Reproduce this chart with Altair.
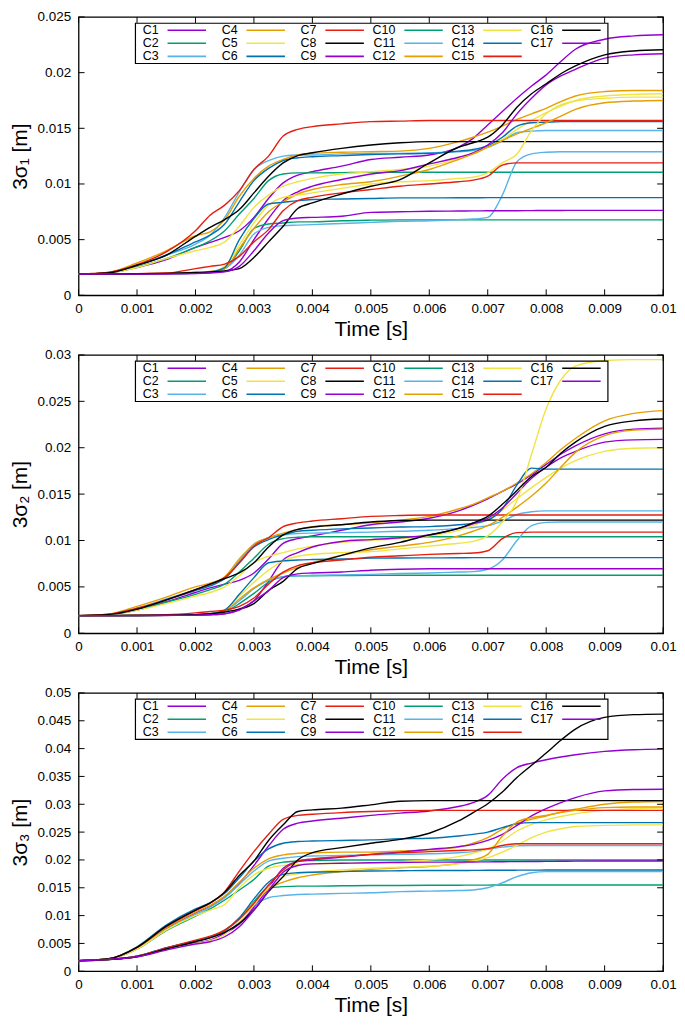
import altair as alt
import pandas as pd

# time grid in milliseconds
TIME_MS = [0, 0.5, 1.0, 1.5, 2.0, 2.25, 2.5, 2.75, 3.0, 3.25, 3.5, 3.75, 4.0, 4.5, 5.0,
           5.5, 6.0, 6.5, 6.75, 7.0, 7.25, 7.5, 7.75, 8.0, 8.25, 8.5, 9.0, 9.5, 10.0]

SERIES = [f"C{i}" for i in range(1, 18)]
COLORS = ["#9400d3", "#009e73", "#56b4e9", "#e69f00", "#f0e442", "#0072b2", "#e51e10", "#000000",
          "#9400d3", "#009e73", "#56b4e9", "#e69f00", "#f0e442", "#0072b2", "#e51e10", "#000000",
          "#9400d3"]

X_TICKS = [0, 0.001, 0.002, 0.003, 0.004, 0.005, 0.006, 0.007, 0.008, 0.009, 0.01]
Y1_TICKS = [0, 0.005, 0.01, 0.015, 0.02, 0.025]
Y2_TICKS = [0, 0.005, 0.01, 0.015, 0.02, 0.025, 0.03]
Y3_TICKS = [0, 0.005, 0.01, 0.015, 0.02, 0.025, 0.03, 0.035, 0.04, 0.045, 0.05]

# values in millimetres (1e-3 m)
SIGMA1_MM = {
    "C1": [1.9, 2.0, 2.5, 3.2, 4.3, 4.75, 5.2, 5.8, 7.0, 8.7, 10.1, 10.8, 11.1, 11.6, 12.2, 12.4, 12.6, 13.3, 14.1, 15.3, 16.5, 17.7, 18.8, 19.8, 21.0, 22.1, 23.0, 23.3, 23.4],
    "C2": [1.9, 2.0, 2.55, 3.3, 4.3, 4.9, 5.8, 7.3, 8.7, 10.3, 10.9, 11.0, 11.0, 11.02, 11.04, 11.05, 11.05, 11.05, 11.05, 11.05, 11.05, 11.05, 11.05, 11.05, 11.05, 11.05, 11.05, 11.05, 11.05],
    "C3": [1.9, 2.0, 2.7, 3.6, 4.6, 5.4, 7.0, 9.3, 11.3, 12.1, 12.5, 12.6, 12.6, 12.7, 12.75, 12.75, 12.8, 12.9, 13.0, 13.3, 13.9, 14.6, 14.75, 14.8, 14.8, 14.8, 14.8, 14.8, 14.8],
    "C4": [1.9, 2.05, 2.9, 4.0, 5.35, 5.7, 6.8, 8.9, 10.5, 11.6, 12.2, 12.6, 12.75, 12.85, 12.9, 12.95, 13.2, 13.8, 14.2, 14.65, 15.2, 15.8, 16.3, 16.8, 17.4, 17.9, 18.3, 18.4, 18.4],
    "C5": [1.9, 2.0, 2.5, 3.3, 4.0, 4.3, 4.8, 6.2, 7.9, 9.0, 9.8, 10.2, 10.5, 10.9, 11.1, 11.3, 11.6, 12.3, 12.8, 13.3, 14.0, 14.9, 15.7, 16.4, 17.0, 17.5, 17.9, 18.05, 18.1],
    "C6": [1.9, 2.0, 2.7, 3.6, 4.8, 5.4, 6.4, 8.4, 10.3, 11.4, 12.1, 12.35, 12.45, 12.55, 12.65, 12.7, 12.75, 12.95, 13.1, 13.45, 14.2, 15.2, 15.5, 15.55, 15.6, 15.6, 15.6, 15.6, 15.6],
    "C7": [1.9, 2.05, 2.75, 3.9, 5.8, 7.2, 8.1, 9.4, 11.3, 12.5, 14.3, 14.9, 15.15, 15.4, 15.6, 15.65, 15.7, 15.7, 15.7, 15.7, 15.7, 15.7, 15.7, 15.7, 15.7, 15.7, 15.7, 15.7, 15.7],
    "C8": [1.9, 2.0, 2.7, 3.6, 5.3, 6.1, 6.8, 7.7, 9.2, 10.7, 11.9, 12.55, 12.8, 13.2, 13.5, 13.7, 13.8, 13.8, 13.8, 13.8, 13.8, 13.8, 13.8, 13.8, 13.8, 13.8, 13.8, 13.8, 13.8],
    "C9": [1.9, 1.9, 1.92, 1.95, 2.0, 2.05, 2.15, 3.0, 5.0, 6.9, 8.5, 9.3, 9.8, 10.4, 10.9, 11.2, 11.8, 12.4, 12.8, 13.5, 14.6, 16.3, 17.7, 18.9, 19.7, 20.3, 21.3, 21.6, 21.7],
    "C10": [1.9, 1.9, 1.92, 1.95, 2.0, 2.1, 2.4, 4.0, 6.0, 6.4, 6.5, 6.6, 6.6, 6.7, 6.75, 6.78, 6.78, 6.78, 6.78, 6.78, 6.78, 6.78, 6.78, 6.78, 6.78, 6.78, 6.78, 6.78, 6.78],
    "C11": [1.9, 1.9, 1.92, 1.95, 2.0, 2.1, 2.4, 3.6, 5.5, 6.1, 6.25, 6.3, 6.35, 6.45, 6.55, 6.65, 6.7, 6.8, 6.85, 7.0, 9.0, 12.0, 12.7, 12.85, 12.9, 12.9, 12.9, 12.9, 12.9],
    "C12": [1.9, 1.9, 1.93, 1.97, 2.05, 2.15, 2.4, 4.2, 6.0, 7.5, 8.4, 9.1, 9.5, 9.95, 10.2, 10.7, 11.3, 12.2, 12.7, 13.3, 13.9, 14.5, 15.0, 15.5, 16.1, 16.7, 17.3, 17.45, 17.5],
    "C13": [1.9, 1.9, 1.93, 1.97, 2.05, 2.1, 2.6, 4.5, 6.5, 8.1, 8.8, 9.0, 9.2, 9.6, 10.0, 10.2, 10.3, 10.5, 10.6, 11.0, 11.9, 12.7, 14.8, 16.3, 17.1, 17.45, 17.7, 17.8, 17.8],
    "C14": [1.9, 1.9, 1.92, 1.95, 2.0, 2.1, 2.5, 5.0, 6.9, 8.2, 8.35, 8.5, 8.6, 8.65, 8.7, 8.75, 8.75, 8.76, 8.76, 8.77, 8.77, 8.77, 8.77, 8.77, 8.77, 8.77, 8.77, 8.77, 8.77],
    "C15": [1.9, 1.9, 1.95, 2.0, 2.4, 2.6, 2.8, 3.5, 4.8, 5.9, 7.6, 8.5, 8.8, 9.2, 9.5, 9.8, 10.0, 10.2, 10.35, 10.7, 11.7, 11.9, 11.9, 11.9, 11.9, 11.9, 11.9, 11.9, 11.9],
    "C16": [1.9, 1.9, 1.93, 1.97, 2.05, 2.1, 2.2, 2.4, 3.4, 4.8, 6.2, 7.8, 8.3, 9.1, 9.8, 10.4, 11.9, 13.3, 13.7, 14.2, 15.3, 16.9, 18.1, 19.0, 19.9, 20.6, 21.6, 21.95, 22.05],
    "C17": [1.9, 1.9, 1.9, 1.92, 1.95, 2.0, 2.1, 2.6, 4.0, 5.6, 6.7, 6.95, 7.0, 7.1, 7.45, 7.5, 7.55, 7.57, 7.58, 7.59, 7.6, 7.6, 7.61, 7.62, 7.62, 7.63, 7.63, 7.63, 7.63],
}

SIGMA2_MM = {
    "C1": [1.9, 2.0, 2.5, 3.4, 4.4, 4.9, 5.3, 5.7, 6.5, 8.0, 9.7, 10.2, 10.5, 11.1, 11.7, 12.0, 12.4, 13.2, 13.8, 14.5, 15.3, 16.1, 17.1, 18.2, 19.3, 20.2, 21.5, 22.0, 22.1],
    "C2": [1.9, 2.0, 2.55, 3.35, 4.2, 4.7, 5.3, 6.6, 8.1, 9.6, 10.2, 10.35, 10.4, 10.4, 10.4, 10.4, 10.4, 10.4, 10.4, 10.4, 10.4, 10.4, 10.4, 10.4, 10.4, 10.4, 10.4, 10.4, 10.4],
    "C3": [1.9, 2.0, 2.7, 3.7, 4.7, 5.2, 6.0, 7.8, 9.6, 10.3, 10.6, 10.75, 10.8, 10.85, 10.9, 11.0, 11.1, 11.3, 11.4, 11.6, 12.1, 12.8, 13.1, 13.2, 13.2, 13.2, 13.2, 13.2, 13.2],
    "C4": [1.9, 2.05, 2.9, 3.9, 5.0, 5.4, 6.1, 8.0, 9.6, 10.3, 10.8, 11.2, 11.5, 11.7, 11.9, 12.2, 12.6, 13.4, 13.9, 14.6, 15.3, 16.2, 17.2, 18.4, 19.8, 21.0, 22.9, 23.7, 24.0],
    "C5": [1.9, 2.0, 2.5, 3.2, 4.0, 4.4, 5.0, 6.2, 7.6, 8.3, 8.7, 9.1, 9.4, 9.8, 10.0, 10.2, 10.5, 11.1, 11.6, 12.3, 13.3, 14.5, 15.7, 16.8, 17.8, 18.6, 19.6, 19.95, 20.0],
    "C6": [1.9, 2.0, 2.6, 3.6, 4.6, 5.1, 5.9, 7.6, 9.3, 10.1, 10.6, 11.0, 11.1, 11.25, 11.35, 11.45, 11.5, 11.7, 11.85, 12.2, 13.4, 16.0, 17.8, 17.7, 17.7, 17.7, 17.7, 17.7, 17.7],
    "C7": [1.9, 2.05, 2.7, 3.6, 4.7, 5.3, 6.0, 7.6, 9.4, 10.3, 11.5, 11.9, 12.1, 12.35, 12.6, 12.7, 12.75, 12.75, 12.75, 12.75, 12.75, 12.75, 12.75, 12.75, 12.75, 12.75, 12.75, 12.75, 12.75],
    "C8": [1.9, 2.0, 2.6, 3.6, 4.7, 5.3, 5.9, 6.5, 7.6, 9.3, 10.6, 11.2, 11.45, 11.7, 12.0, 12.15, 12.2, 12.2, 12.2, 12.2, 12.2, 12.2, 12.2, 12.2, 12.2, 12.2, 12.2, 12.2, 12.2],
    "C9": [1.9, 1.9, 1.92, 1.94, 1.95, 2.0, 2.1, 2.6, 3.5, 5.6, 7.9, 8.7, 9.3, 9.9, 10.1, 10.3, 10.6, 11.3, 11.8, 12.4, 13.5, 15.1, 16.7, 17.9, 18.9, 19.6, 20.6, 20.85, 20.9],
    "C10": [1.9, 1.9, 1.92, 1.95, 2.0, 2.05, 2.3, 3.2, 4.3, 5.5, 6.1, 6.2, 6.2, 6.22, 6.24, 6.25, 6.26, 6.26, 6.26, 6.26, 6.26, 6.26, 6.26, 6.26, 6.26, 6.26, 6.26, 6.26, 6.26],
    "C11": [1.9, 1.9, 1.92, 1.95, 2.0, 2.1, 2.4, 3.5, 4.8, 5.7, 6.1, 6.2, 6.25, 6.3, 6.35, 6.45, 6.5, 6.6, 6.65, 6.9, 7.9, 10.0, 11.6, 11.95, 12.0, 12.0, 12.0, 12.0, 12.0],
    "C12": [1.9, 1.9, 1.92, 1.95, 2.0, 2.1, 2.4, 3.7, 4.9, 5.8, 6.5, 7.1, 7.6, 8.4, 9.0, 9.4, 9.8, 10.5, 11.0, 11.6, 12.5, 13.6, 14.8, 16.2, 17.9, 19.5, 21.3, 21.9, 22.0],
    "C13": [1.9, 1.9, 1.92, 1.95, 2.0, 2.1, 2.5, 4.0, 5.5, 6.8, 7.8, 8.3, 8.5, 8.7, 8.8, 9.1, 9.4, 9.7, 9.9, 10.5, 12.0, 14.3, 19.3, 24.2, 27.3, 28.8, 29.4, 29.5, 29.5],
    "C14": [1.9, 1.9, 1.92, 1.95, 2.0, 2.1, 2.5, 4.2, 6.0, 7.6, 7.8, 7.9, 7.95, 8.0, 8.1, 8.12, 8.13, 8.14, 8.15, 8.15, 8.15, 8.15, 8.15, 8.15, 8.15, 8.15, 8.15, 8.15, 8.15],
    "C15": [1.9, 1.9, 1.95, 2.0, 2.2, 2.35, 2.5, 2.9, 3.8, 5.3, 6.6, 7.3, 7.6, 7.9, 8.2, 8.35, 8.5, 8.6, 8.65, 8.9, 10.2, 10.85, 10.9, 10.9, 10.9, 10.9, 10.9, 10.9, 10.9],
    "C16": [1.9, 1.9, 1.92, 1.95, 2.0, 2.1, 2.3, 2.6, 3.2, 4.6, 5.6, 7.0, 7.5, 8.4, 9.2, 9.8, 10.6, 11.3, 11.9, 12.6, 13.9, 15.4, 16.9, 17.9, 19.4, 20.6, 22.3, 22.9, 23.1],
    "C17": [1.9, 1.9, 1.9, 1.92, 1.95, 2.0, 2.1, 2.5, 3.5, 4.6, 6.0, 6.4, 6.5, 6.6, 6.8, 6.9, 6.95, 6.96, 6.96, 6.96, 6.96, 6.96, 6.96, 6.96, 6.96, 6.96, 6.96, 6.96, 6.96],
}

SIGMA3_MM = {
    "C1": [1.9, 2.2, 4.1, 7.7, 10.5, 11.7, 13.3, 15.8, 19.0, 22.5, 25.5, 26.6, 27.0, 27.5, 28.0, 28.4, 28.8, 29.6, 30.3, 31.6, 34.5, 36.6, 37.4, 38.0, 38.5, 38.9, 39.5, 39.8, 39.9],
    "C2": [1.9, 2.2, 4.0, 7.3, 9.9, 11.2, 12.8, 14.6, 16.5, 18.9, 19.6, 19.8, 19.9, 20.0, 20.0, 20.0, 20.0, 20.0, 20.0, 20.0, 20.0, 20.0, 20.0, 20.0, 20.0, 20.0, 20.0, 20.0, 20.0],
    "C3": [1.9, 2.2, 4.0, 7.5, 10.2, 11.5, 13.2, 15.6, 18.0, 19.8, 20.3, 20.6, 20.7, 20.8, 20.9, 21.0, 21.1, 21.3, 21.5, 21.9, 22.3, 22.55, 22.6, 22.6, 22.6, 22.6, 22.6, 22.6, 22.6],
    "C4": [1.9, 2.2, 4.2, 7.8, 10.6, 11.8, 13.5, 16.0, 18.5, 20.2, 20.9, 21.2, 21.3, 21.4, 21.4, 21.6, 21.8, 22.3, 23.0, 24.0, 25.5, 26.6, 27.3, 27.9, 28.6, 29.1, 30.0, 30.4, 30.5],
    "C5": [1.9, 2.2, 4.0, 7.4, 10.0, 11.0, 12.0, 15.0, 17.3, 18.5, 19.0, 19.2, 19.3, 19.4, 19.5, 19.7, 20.0, 20.6, 21.2, 22.0, 23.4, 25.2, 26.4, 27.2, 27.8, 28.3, 28.9, 29.2, 29.3],
    "C6": [1.9, 2.2, 4.4, 8.3, 11.2, 12.3, 14.0, 16.8, 19.8, 22.0, 23.0, 23.3, 23.4, 23.5, 23.6, 23.8, 23.9, 24.3, 24.6, 25.0, 25.8, 26.5, 26.7, 26.7, 26.7, 26.7, 26.7, 26.7, 26.7],
    "C7": [1.9, 2.2, 4.3, 8.0, 10.9, 12.2, 14.3, 18.0, 21.5, 24.6, 27.3, 28.0, 28.2, 28.5, 28.7, 28.85, 28.9, 28.9, 28.9, 28.9, 28.9, 28.9, 28.9, 28.9, 28.9, 28.9, 28.9, 28.9, 28.9],
    "C8": [1.9, 2.2, 4.3, 8.1, 11.0, 12.3, 14.2, 17.2, 19.8, 23.5, 26.3, 28.7, 29.0, 29.3, 29.9, 30.55, 30.65, 30.65, 30.65, 30.65, 30.65, 30.65, 30.65, 30.65, 30.65, 30.65, 30.65, 30.65, 30.65],
    "C9": [1.9, 2.1, 2.7, 4.1, 5.1, 5.6, 6.8, 8.5, 11.5, 15.0, 18.5, 19.7, 20.0, 20.5, 21.0, 21.4, 21.9, 22.4, 22.8, 23.5, 24.6, 26.2, 27.9, 29.2, 30.3, 31.2, 32.4, 32.65, 32.7],
    "C10": [1.9, 2.1, 2.7, 4.2, 5.4, 6.1, 7.3, 9.5, 12.5, 15.0, 15.2, 15.3, 15.3, 15.35, 15.4, 15.42, 15.44, 15.46, 15.47, 15.48, 15.5, 15.5, 15.5, 15.5, 15.5, 15.5, 15.5, 15.5, 15.5],
    "C11": [1.9, 2.1, 2.7, 4.2, 5.4, 6.1, 7.3, 9.3, 11.8, 13.2, 13.6, 13.8, 13.85, 14.0, 14.1, 14.3, 14.4, 14.5, 14.6, 15.0, 15.9, 17.0, 17.7, 17.9, 17.9, 17.9, 17.9, 17.9, 17.9],
    "C12": [1.9, 2.1, 2.7, 4.1, 5.4, 6.1, 7.4, 9.5, 12.3, 14.8, 16.0, 16.8, 17.3, 17.9, 18.3, 18.6, 18.8, 19.4, 20.0, 21.0, 24.3, 26.8, 27.6, 28.0, 28.5, 28.9, 29.4, 29.5, 29.5],
    "C13": [1.9, 2.1, 2.6, 3.9, 5.0, 5.5, 6.6, 9.0, 12.0, 15.0, 17.0, 17.5, 17.8, 18.2, 18.5, 18.7, 18.9, 19.3, 19.8, 20.4, 21.4, 22.6, 24.0, 25.0, 25.6, 26.0, 26.2, 26.3, 26.3],
    "C14": [1.9, 2.1, 2.7, 4.2, 5.4, 6.1, 7.3, 9.6, 13.0, 16.0, 17.4, 17.7, 17.8, 17.9, 18.0, 18.05, 18.1, 18.1, 18.12, 18.14, 18.15, 18.16, 18.17, 18.18, 18.19, 18.2, 18.2, 18.2, 18.2],
    "C15": [1.9, 2.1, 2.7, 4.2, 5.6, 6.3, 7.4, 9.4, 12.2, 15.5, 18.2, 19.8, 20.2, 20.6, 21.0, 21.3, 21.5, 21.7, 21.8, 22.0, 22.6, 22.9, 22.9, 22.9, 22.9, 22.9, 22.9, 22.9, 22.9],
    "C16": [1.9, 2.1, 2.6, 4.0, 5.3, 6.0, 7.0, 8.6, 11.0, 14.3, 17.0, 20.0, 21.3, 22.2, 23.0, 23.7, 24.8, 27.0, 28.5, 30.1, 32.2, 34.8, 37.0, 39.2, 41.5, 43.5, 45.6, 46.1, 46.2],
    "C17": [1.9, 2.1, 2.6, 3.8, 4.9, 5.3, 6.2, 8.0, 11.0, 14.5, 17.8, 19.0, 19.3, 19.4, 19.5, 19.55, 19.6, 19.62, 19.64, 19.66, 19.68, 19.7, 19.72, 19.74, 19.76, 19.78, 19.8, 19.8, 19.8],
}

W, H = 588, 280
FONT = "Liberation Sans"


def curve_frame(data):
    rows = []
    for name in SERIES:
        for t, v in zip(TIME_MS, data[name]):
            rows.append({"series": name, "t": t / 1000.0, "v": v / 1000.0})
    return pd.DataFrame(rows)


def panel(data, ymax, yticks, ytitle):
    xs = alt.Scale(domain=[0, 0.01], nice=False, zero=False)
    ys = alt.Scale(domain=[0, ymax], nice=False, zero=False)
    cs = alt.Scale(domain=SERIES, range=COLORS)
    xaxis = alt.Axis(values=X_TICKS, format="~g", title="Time [s]")
    yaxis = alt.Axis(values=yticks, format="~g", title=ytitle)

    lines = alt.Chart(curve_frame(data)).mark_line(
        interpolate="monotone", strokeWidth=1.4, clip=True
    ).encode(
        x=alt.X("t:Q", scale=xs, axis=xaxis),
        y=alt.Y("v:Q", scale=ys, axis=yaxis),
        color=alt.Color("series:N", scale=cs, legend=None),
    )

    xt = pd.DataFrame({"t": X_TICKS})
    yt = pd.DataFrame({"v": yticks})
    tick_top = alt.Chart(xt).mark_rule(color="black", strokeWidth=1).encode(
        x=alt.X("t:Q", scale=xs, axis=xaxis), y=alt.value(0), y2=alt.value(6))
    tick_bot = alt.Chart(xt).mark_rule(color="black", strokeWidth=1).encode(
        x=alt.X("t:Q", scale=xs, axis=xaxis), y=alt.value(H), y2=alt.value(H - 6))
    tick_left = alt.Chart(yt).mark_rule(color="black", strokeWidth=1).encode(
        y=alt.Y("v:Q", scale=ys, axis=yaxis), x=alt.value(0), x2=alt.value(6))
    tick_right = alt.Chart(yt).mark_rule(color="black", strokeWidth=1).encode(
        y=alt.Y("v:Q", scale=ys, axis=yaxis), x=alt.value(W), x2=alt.value(W - 6))

    dummy = pd.DataFrame({"a": [0]})
    layers = [lines, tick_top, tick_bot, tick_left, tick_right]
    layers.append(
        alt.Chart(dummy).mark_rect(filled=False, stroke="black", strokeWidth=1.2).encode(
            x=alt.value(57.2), x2=alt.value(532.5), y=alt.value(6.3), y2=alt.value(46.8))
    )
    for i, name in enumerate(SERIES):
        col, row = divmod(i, 3)
        ly = 13.4 + 13.1 * row
        layers.append(
            alt.Chart(dummy).mark_text(
                align="right", baseline="middle", fontSize=12.5, font=FONT, color="black"
            ).encode(x=alt.value(80.5 + 79.4 * col), y=alt.value(ly), text=alt.value(name))
        )
        layers.append(
            alt.Chart(dummy).mark_rule(strokeWidth=1.6, color=COLORS[i]).encode(
                x=alt.value(89.5 + 79.4 * col), x2=alt.value(128.2 + 79.4 * col), y=alt.value(ly))
        )

    return alt.layer(*layers).properties(width=W, height=H)


chart = alt.vconcat(
    panel(SIGMA1_MM, 0.025, Y1_TICKS, "3σ₁ [m]"),
    panel(SIGMA2_MM, 0.03, Y2_TICKS, "3σ₂ [m]"),
    panel(SIGMA3_MM, 0.05, Y3_TICKS, "3σ₃ [m]"),
    spacing=6,
).properties(
    padding={"left": 0, "top": -2, "right": 0, "bottom": 1}
).configure_view(
    stroke="black", strokeWidth=1.3
).configure_axis(
    grid=False, ticks=False, domain=False,
    labelFont=FONT, titleFont=FONT, labelFontSize=13.5, titleFontSize=21,
    labelColor="black", titleColor="black", titleFontWeight="normal",
    labelFlush=False, labelOverlap=False,
).configure_axisX(
    labelPadding=6, titlePadding=4,
).configure_axisY(
    labelPadding=8, titlePadding=7,
)

chart.save("out.html", embed_options={"renderer": "svg", "actions": False})
